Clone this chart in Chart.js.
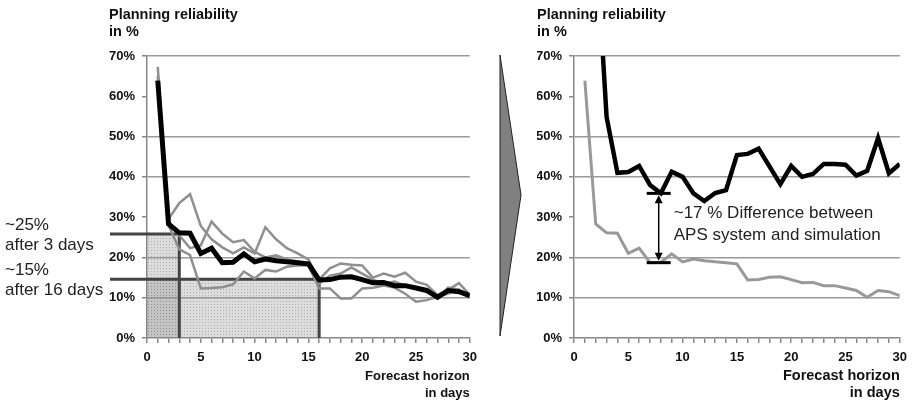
<!DOCTYPE html>
<html>
<head>
<meta charset="utf-8">
<script src="https://cdn.jsdelivr.net/npm/chart.js@4.4.1/dist/chart.umd.min.js"></script>
<style>
  html, body { margin: 0; padding: 0; background: #fff; }
  body { width: 913px; height: 403px; position: relative; overflow: hidden; }
  .box { position: absolute; top: 0; height: 403px; }
  #leftBox { left: 0; width: 484px; }
  #rightBox { left: 530px; width: 384px; }
  #arrow { position: absolute; left: 490px; top: 50px; }
</style>
</head>
<body>
<div class="box" id="leftBox"><canvas id="leftChart"></canvas></div>
<svg id="arrow" width="40" height="300"><polygon points="10,5 31,145 10,286" fill="#808080" stroke="#222" stroke-width="1"/></svg>
<div class="box" id="rightBox"><canvas id="rightChart"></canvas></div>

<script>
// Forecast horizon (days)
const days = [1,2,3,4,5,6,7,8,9,10,11,12,13,14,15,16,17,18,19,20,21,22,23,24,25,26,27,28,29,30];

// Simulation (black on the left, grey on the right)
const simulation = [63.9,28.3,26.1,26.0,21.0,22.3,18.7,18.8,20.9,18.9,19.6,19.2,18.9,18.7,18.4,14.4,14.5,15.1,15.2,14.5,13.7,13.8,13.0,13.0,12.4,11.8,10.1,11.8,11.5,10.5];

// Single simulation runs (thin grey, left chart)
const runA = [67.3,29.5,33.5,35.7,27.8,24.5,22.5,21.0,22.5,21.0,27.5,24.5,22.3,21.0,19.5,14.5,17.3,18.5,18.2,18.0,15.0,16.0,15.2,16.2,14.0,13.2,10.7,12.0,13.6,10.7];
const runB = [65.0,29.0,25.5,22.3,23.0,28.9,25.9,23.8,24.3,21.4,20.0,20.5,19.5,19.0,18.0,13.5,15.5,16.0,17.5,16.0,14.5,13.5,14.0,13.0,12.5,11.5,10.0,12.5,12.0,10.5];
const runC = [64.0,28.0,22.0,20.6,12.3,12.4,12.6,13.3,16.5,14.8,16.9,16.5,17.7,18.0,18.0,12.3,12.3,9.8,9.8,12.3,12.5,13.0,12.5,11.0,9.0,9.4,10.2,11.0,12.0,10.0];

// APS system (black, right chart) - first two days are off the top of the axis
const apsSystem = [100,100,54.9,41.0,41.2,42.7,38.0,35.9,41.3,40.0,35.9,34.0,36.0,36.7,45.4,45.7,47.0,42.6,38.2,42.7,40.0,40.7,43.2,43.2,43.0,40.3,41.5,49.6,40.9,43.2];

// Markers on the left chart
const thresholdDays = [3, 16];
const thresholdLevels = [25.8, 14.6];
const thresholdTexts = [["~25%", "after 3 days"], ["~15%", "after 16 days"]];

// Difference annotation on the right chart
const diffDay = 7.8;
const diffTop = 35.9;
const diffBottom = 18.7;
const diffTexts = ["~17 % Difference between", "APS system and simulation"];

const gridLevels = [10, 20, 40, 50, 70];
const FONT = "'Liberation Sans', Arial, sans-serif";
Chart.defaults.font.family = FONT;

const toPoints = arr => arr.map((v, i) => ({ x: days[i], y: v }));

function makeOptions(cfg) {
    return {
        responsive: true,
        maintainAspectRatio: false,
        animation: false,
        layout: { padding: { left: cfg.padLeft, right: cfg.padRight, top: 0, bottom: 0 } },
        plugins: {
            legend: { display: false },
            tooltip: { enabled: false },
            title: {
                display: true,
                text: ["Planning reliability", "in %"],
                align: "start",
                color: "#111",
                font: { size: 14.5, weight: "bold", lineHeight: "17px" },
                padding: { top: 6.5, bottom: 15.5 }
            }
        },
        scales: {
            x: {
                type: "linear", min: 0, max: 30,
                afterFit: s => { s.height = 65; },
                ticks: {
                    stepSize: 1, autoSkip: false, maxRotation: 0, padding: 7,
                    color: "#111", font: { size: 13, weight: "bold" },
                    callback: v => (v % 5 === 0 ? String(v) : "")
                },
                grid: { drawOnChartArea: false, tickLength: 5, color: "#888", lineWidth: 1.5 },
                border: { color: "#888", width: 1.5 },
                title: {
                    display: true, text: ["Forecast horizon", "in days"], align: "end", color: "#111",
                    font: { size: cfg.xTitleSize, weight: "bold", lineHeight: "17px" },
                    padding: { top: 0, bottom: 1.5 }
                }
            },
            y: {
                min: 0, max: 70,
                afterFit: s => { s.width = cfg.yWidth; },
                ticks: {
                    stepSize: 10, padding: 7, color: "#111",
                    font: { size: 13, weight: "bold" },
                    callback: v => v + "%"
                },
                grid: {
                    color: c => (gridLevels.includes(c.tick.value) ? "#9a9a9a" : "rgba(0,0,0,0)"),
                    tickColor: "#888", tickLength: 5, lineWidth: 1.5
                },
                border: { color: "#888", width: 1.5 }
            }
        }
    };
}

function dotPattern(ctx) {
    const c = document.createElement("canvas");
    c.width = 3; c.height = 3;
    const g = c.getContext("2d");
    g.fillStyle = "rgba(150,150,150,0.33)";
    g.fillRect(0, 0, 3, 3);
    g.fillStyle = "rgba(100,100,100,0.35)";
    g.fillRect(1, 1, 1, 1);
    return ctx.createPattern(c, "repeat");
}

// Shaded areas, marker lines and the texts left of the axis
const leftMarks = {
    id: "leftMarks",
    beforeDatasetsDraw(chart) {
        const { ctx, chartArea, scales: { x, y } } = chart;
        ctx.save();
        const fill = dotPattern(ctx);
        const x0 = x.getPixelForValue(0);
        const y0 = y.getPixelForValue(0);
        thresholdDays.forEach((d, i) => {
            const x1 = x.getPixelForValue(d);
            const y1 = y.getPixelForValue(thresholdLevels[i]);
            ctx.fillStyle = fill;
            ctx.fillRect(x0, y1, x1 - x0, y0 - y1);
        });
        ctx.strokeStyle = "#444";
        ctx.lineWidth = 3;
        thresholdDays.forEach((d, i) => {
            const x1 = x.getPixelForValue(d);
            const y1 = y.getPixelForValue(thresholdLevels[i]);
            ctx.beginPath();
            ctx.moveTo(chartArea.left - 37, y1);
            ctx.lineTo(x1, y1);
            ctx.lineTo(x1, y0);
            ctx.stroke();
        });
        ctx.restore();
    },
    afterDraw(chart) {
        const { ctx, scales: { y } } = chart;
        ctx.save();
        ctx.font = "17px " + FONT;
        ctx.fillStyle = "#222";
        ctx.textBaseline = "middle";
        ctx.textAlign = "left";
        thresholdLevels.forEach((lvl, i) => {
            const py = y.getPixelForValue(lvl);
            ctx.fillText(thresholdTexts[i][0], 5, py - 9);
            ctx.fillText(thresholdTexts[i][1], 5, py + 11);
        });
        ctx.restore();
    }
};

// Double arrow with caps and its label
const diffMark = {
    id: "diffMark",
    afterDatasetsDraw(chart) {
        const { ctx, scales: { x, y } } = chart;
        const px = x.getPixelForValue(diffDay);
        const yt = y.getPixelForValue(diffTop);
        const yb = y.getPixelForValue(diffBottom);
        ctx.save();
        ctx.strokeStyle = "#000";
        ctx.fillStyle = "#000";
        ctx.lineWidth = 3;
        [yt, yb].forEach(py => {
            ctx.beginPath();
            ctx.moveTo(px - 12, py);
            ctx.lineTo(px + 12, py);
            ctx.stroke();
        });
        ctx.lineWidth = 1.5;
        ctx.beginPath();
        ctx.moveTo(px, yt + 6);
        ctx.lineTo(px, yb - 6);
        ctx.stroke();
        ctx.beginPath();
        ctx.moveTo(px, yt + 2); ctx.lineTo(px - 4, yt + 10); ctx.lineTo(px + 4, yt + 10);
        ctx.closePath(); ctx.fill();
        ctx.beginPath();
        ctx.moveTo(px, yb - 2); ctx.lineTo(px - 4, yb - 10); ctx.lineTo(px + 4, yb - 10);
        ctx.closePath(); ctx.fill();

        ctx.font = "17px " + FONT;
        ctx.fillStyle = "#222";
        ctx.textBaseline = "middle";
        ctx.textAlign = "left";
        const mid = (yt + yb) / 2;
        ctx.fillText(diffTexts[0], px + 15, mid - 15);
        ctx.fillText(diffTexts[1], px + 15, mid + 7);
        ctx.restore();
    }
};

const lineStyle = (color, width, order) => ({
    borderColor: color, borderWidth: width, pointRadius: 0, tension: 0, fill: false, order
});

new Chart(document.getElementById("leftChart"), {
    type: "line",
    data: {
        datasets: [
            { label: "Simulation", data: toPoints(simulation), ...lineStyle("#000", 5, 0) },
            { label: "Run A", data: toPoints(runA), ...lineStyle("#8f8f8f", 2.5, 1) },
            { label: "Run B", data: toPoints(runB), ...lineStyle("#8f8f8f", 2.5, 1) },
            { label: "Run C", data: toPoints(runC), ...lineStyle("#8f8f8f", 2.5, 1) }
        ]
    },
    options: makeOptions({ padLeft: 109, padRight: 9, yWidth: 38, xTitleSize: 13 }),
    plugins: [leftMarks]
});

new Chart(document.getElementById("rightChart"), {
    type: "line",
    data: {
        datasets: [
            { label: "APS system", data: toPoints(apsSystem), ...lineStyle("#000", 4.5, 0) },
            { label: "Simulation", data: toPoints(simulation), ...lineStyle("#999", 3, 1) }
        ]
    },
    options: makeOptions({ padLeft: 7, padRight: 13, yWidth: 37, xTitleSize: 14.5 }),
    plugins: [diffMark]
});
</script>
</body>
</html>
